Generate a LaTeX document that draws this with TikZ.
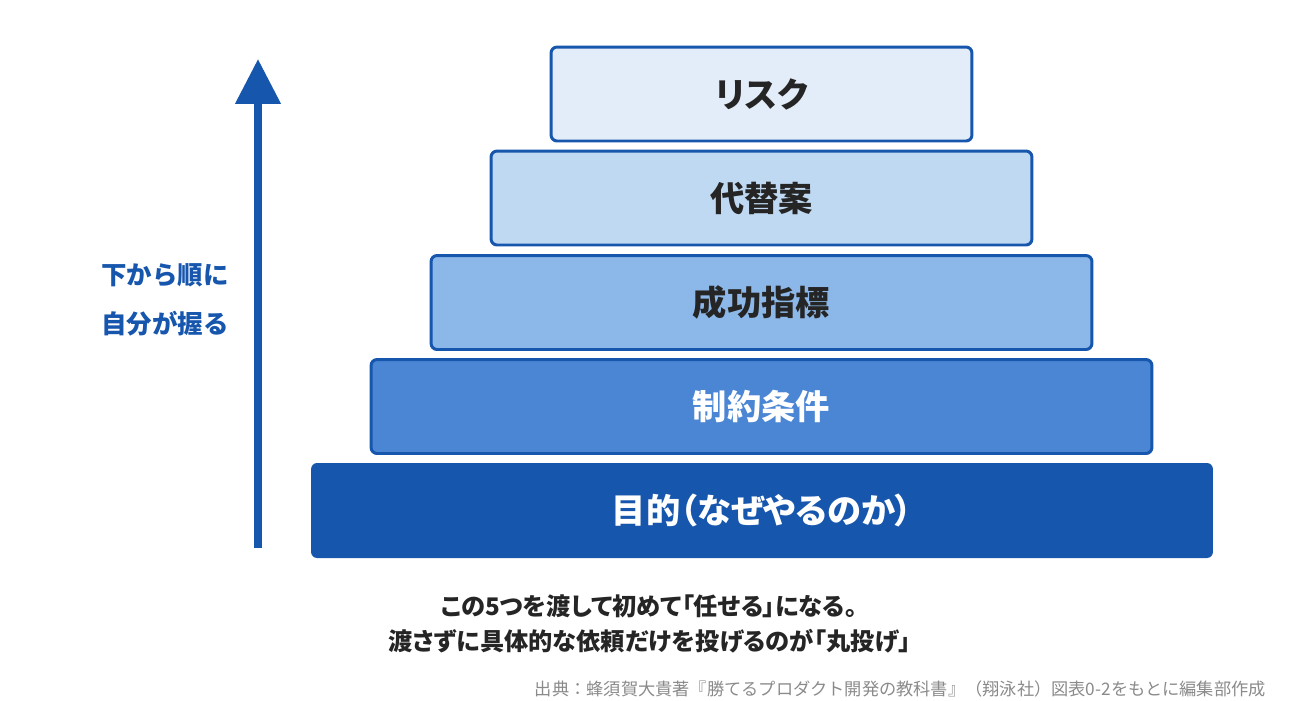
\documentclass[tikz,border=0pt]{standalone}
\usepackage{fontspec}
\usetikzlibrary{arrows.meta,positioning}
\newfontfamily\jp{Noto Sans CJK JP}
\newfontfamily\jpkern{Noto Sans CJK JP}[RawFeature=+palt]
\definecolor{deepblue}{HTML}{1756AD}
\definecolor{lvlfour}{HTML}{4A86D4}
\definecolor{lvlthree}{HTML}{8CB8E9}
\definecolor{lvltwo}{HTML}{BFD9F2}
\definecolor{lvlone}{HTML}{E3EDF9}
\definecolor{inktext}{HTML}{252525}
\definecolor{srcgray}{HTML}{8A8A8A}
\tikzset{
  tier/.style={draw=deepblue, line width=1.7pt, rounded corners=0.12cm,
    minimum height=1.88cm, inner sep=0pt, text=inktext,
    font=\jpkern\bfseries\fontsize{19.5}{22}\selectfont},
  caption/.style={inner sep=0pt, text=inktext, font=\jpkern\bfseries\fontsize{13.8}{16}\selectfont},
}
\begin{document}
\begin{tikzpicture}[x=0.02cm,y=-0.02cm]
        \useasboundingbox (0,0) rectangle (1300,700);
        % Pyramid tiers
        \node[tier, fill=lvlone, minimum width=8.42cm] (risk) at (761.5,94) {リスク};
        \node[tier, fill=lvltwo, minimum width=10.82cm] (alt) at (761.5,198) {代替案};
        \node[tier, fill=lvlthree, minimum width=13.22cm] (kpi) at (761.5,302.5) {成功指標};
        \node[tier, fill=lvlfour, text=white, minimum width=15.62cm] (limit) at (761.5,406.5) {制約条件};
        \node[tier, draw=none, fill=deepblue, text=white, minimum width=18.04cm, minimum height=1.9cm] (goal) at (762,510.5) {目的（なぜやるのか）};
        % Arrow
        \coordinate (arrlow) at (258,548);
        \coordinate (arrtop) at (258,59);
        \draw[deepblue, line width=4.5pt, -{Triangle[length=0.9cm,width=0.88cm]}] (arrlow) -- (arrtop);
        % Side label
        \node[anchor=east, align=right, inner sep=0pt, text=deepblue,
          font=\jp\bfseries\fontsize{14.5}{28}\selectfont] (order) at (229,300) {下から順に\\自分が握る};
        % Caption
        \node[caption] (capone) at (649,606) {この5つを渡して初めて「任せる」になる。};
        \node[caption] (captwo) at (650,641) {渡さずに具体的な依頼だけを投げるのが「丸投げ」};
        \node[anchor=east, inner sep=0pt, text=srcgray, font=\jp\fontsize{9.8}{12}\selectfont] (source) at (1266,689) {出典：蜂須賀大貴著『勝てるプロダクト開発の教科書』（翔泳社）図表0-2をもとに編集部作成};
    \end{tikzpicture}
\end{document}
